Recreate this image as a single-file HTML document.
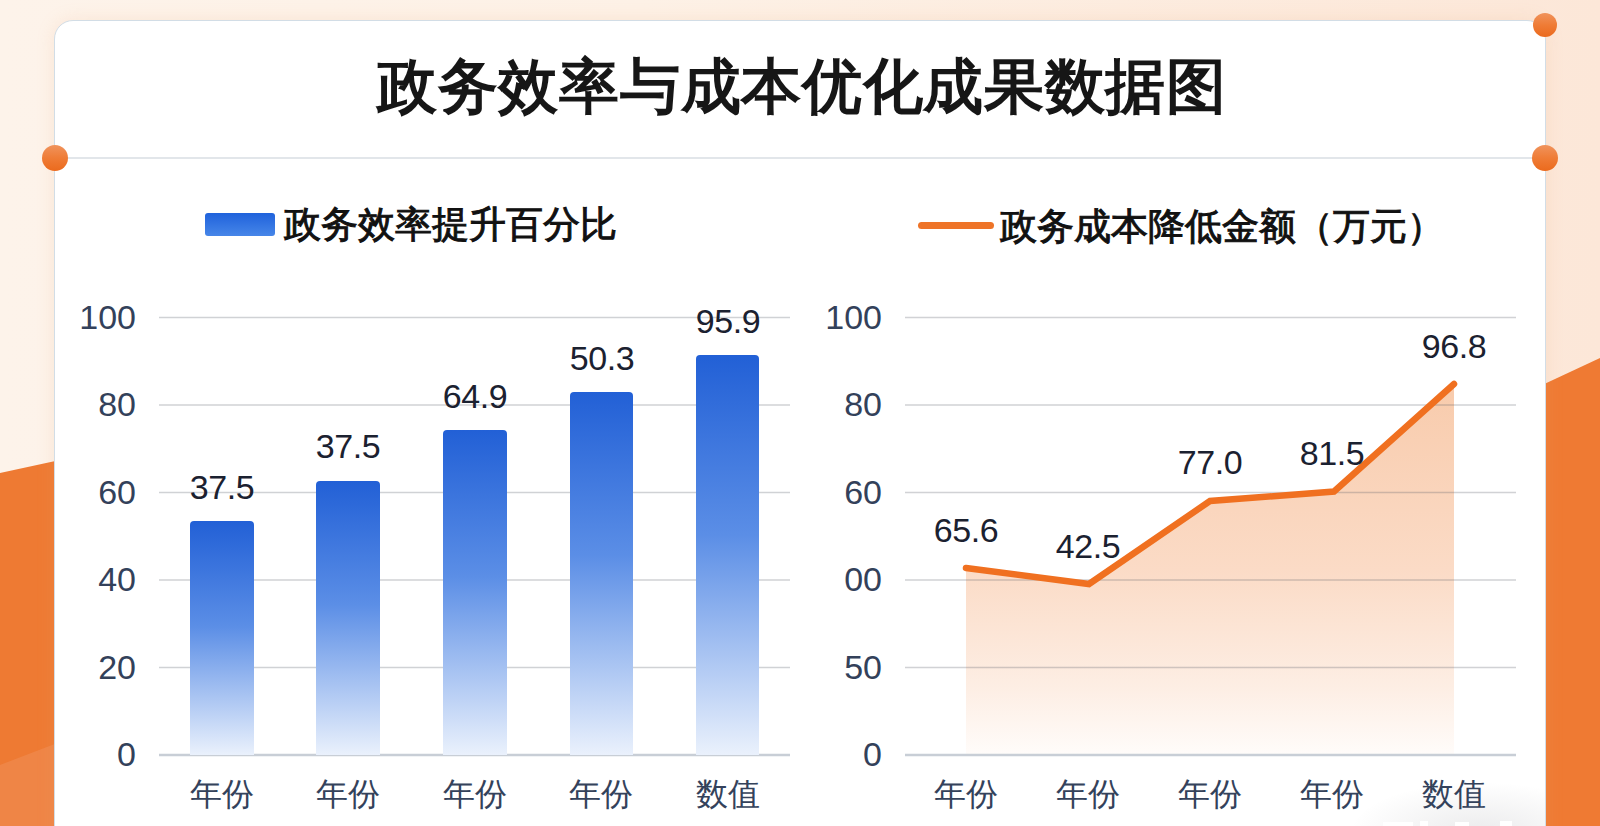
<!DOCTYPE html>
<html><head><meta charset="utf-8">
<style>
html,body{margin:0;padding:0;}
body{width:1600px;height:826px;overflow:hidden;position:relative;font-family:"Liberation Sans",sans-serif;
background:linear-gradient(90deg,#fdf3ea 0%,#fdf1e6 40%,#fce7d8 100%);}
.abs{position:absolute;}
#bgsvg{position:absolute;left:0;top:0;}
.card{position:absolute;left:54px;top:20px;width:1492px;height:840px;background:#fff;border:1.5px solid #d2dde6;border-radius:19px 19px 0 0;box-sizing:border-box;
box-shadow:0 0 18px rgba(240,170,120,0.18);}
.sep{position:absolute;left:54px;top:157px;width:1491px;height:2px;background:#e2e6ea;}
.dot{position:absolute;border-radius:50%;background:linear-gradient(180deg,#f0935c 0%,#ef7c36 50%,#eb6a1d 100%);}
.title{position:absolute;left:377px;top:47px;white-space:nowrap;font-size:60px;font-weight:bold;color:#161616;letter-spacing:0.7px;}
.leg{position:absolute;font-size:37px;color:#111;line-height:44px;font-weight:400;-webkit-text-stroke:1px #111;}
.ylab{position:absolute;font-size:34px;color:#33415a;text-align:right;width:80px;line-height:36px;}
.xlab{position:absolute;font-size:32px;color:#34425b;text-align:center;width:120px;line-height:36px;}
.val{position:absolute;font-size:34px;color:#1b2130;text-align:center;width:120px;line-height:36px;letter-spacing:-0.4px;}
</style></head>
<body>
<svg id="bgsvg" width="1600" height="826">
  <polygon points="0,473 60,460 60,826 0,826" fill="#ee7a33"/>
  <polygon points="0,765 60,742 60,826 0,826" fill="#ef8a4e" opacity="0.75"/>
  <polygon points="1540,386 1600,358 1600,826 1540,826" fill="#ef7a33"/>
</svg>
<div class="card"></div>
<div class="sep"></div>
<div class="dot" style="left:42px;top:145px;width:26px;height:26px;"></div>
<div class="dot" style="left:1532px;top:145px;width:26px;height:26px;"></div>
<div class="dot" style="left:1533px;top:13px;width:24px;height:24px;"></div>

<div class="title">政务效率与成本优化成果数据图</div>

<!-- legends -->
<div class="abs" style="left:205px;top:213px;width:70px;height:23px;border-radius:3px;background:linear-gradient(180deg,#1f62dc,#4786e8);"></div>
<div class="leg" style="left:284px;top:203px;">政务效率提升百分比</div>
<div class="abs" style="left:918px;top:222px;width:76px;height:7px;border-radius:4px;background:#ee7428;"></div>
<div class="leg" style="left:1000px;top:205px;">政务成本降低金额（万元）</div>

<svg class="abs" style="left:0;top:0" width="1600" height="826">
  <defs>
    <linearGradient id="barg" x1="0" y1="0" x2="0" y2="1" gradientUnits="objectBoundingBox">
      <stop offset="0" stop-color="#2260d6"/>
      <stop offset="0.45" stop-color="#5b8ee6"/>
      <stop offset="1" stop-color="#eaf1fc"/>
    </linearGradient>
    <linearGradient id="areag" x1="0" y1="383" x2="0" y2="755" gradientUnits="userSpaceOnUse">
      <stop offset="0" stop-color="#f8cbac"/>
      <stop offset="0.5" stop-color="#fbdbc6"/>
      <stop offset="0.82" stop-color="#fdeee4"/>
      <stop offset="1" stop-color="#fffcfa"/>
    </linearGradient>
  </defs>
  <!-- left grid -->
  <g stroke="#d0d2d5" stroke-width="1.6">
    <line x1="159" y1="317.5" x2="790" y2="317.5"/>
    <line x1="159" y1="405" x2="790" y2="405"/>
    <line x1="159" y1="492.5" x2="790" y2="492.5"/>
    <line x1="159" y1="580" x2="790" y2="580"/>
    <line x1="159" y1="667.5" x2="790" y2="667.5"/>
  </g>
  <line x1="159" y1="755" x2="790" y2="755" stroke="#c8ced6" stroke-width="2.5"/>
  <!-- bars -->
  <g fill="url(#barg)">
    <path d="M190,755 V525 Q190,521 194,521 H250 Q254,521 254,525 V755 Z"/>
    <path d="M316,755 V485 Q316,481 320,481 H376 Q380,481 380,485 V755 Z"/>
    <path d="M443,755 V434 Q443,430 447,430 H503 Q507,430 507,434 V755 Z"/>
    <path d="M570,755 V396 Q570,392 574,392 H629 Q633,392 633,396 V755 Z"/>
    <path d="M696,755 V359 Q696,355 700,355 H755 Q759,355 759,359 V755 Z"/>
  </g>
  <!-- area -->
  <polygon points="966,568 1089,584 1210,501 1334,491.5 1454,384 1454,755 966,755" fill="url(#areag)"/>
  <!-- right grid -->
  <g stroke="rgb(90,95,105)" stroke-opacity="0.28" stroke-width="1.5">
    <line x1="905" y1="317.5" x2="1516" y2="317.5"/>
    <line x1="905" y1="405" x2="1516" y2="405"/>
    <line x1="905" y1="492.5" x2="1516" y2="492.5"/>
    <line x1="905" y1="580" x2="1516" y2="580"/>
    <line x1="905" y1="667.5" x2="1516" y2="667.5"/>
  </g>
  <line x1="905" y1="755" x2="1516" y2="755" stroke="#c8ced6" stroke-width="2.5"/>
  <polyline points="966,568 1089,584 1210,501 1334,491.5 1454,384" fill="none" stroke="#f07020" stroke-width="6.5" stroke-linejoin="miter" stroke-linecap="round"/>
</svg>

<!-- left y labels -->
<div class="ylab" style="left:56px;top:299px;">100</div>
<div class="ylab" style="left:56px;top:386px;">80</div>
<div class="ylab" style="left:56px;top:474px;">60</div>
<div class="ylab" style="left:56px;top:561px;">40</div>
<div class="ylab" style="left:56px;top:649px;">20</div>
<div class="ylab" style="left:56px;top:736px;">0</div>
<!-- right y labels -->
<div class="ylab" style="left:802px;top:299px;">100</div>
<div class="ylab" style="left:802px;top:386px;">80</div>
<div class="ylab" style="left:802px;top:474px;">60</div>
<div class="ylab" style="left:802px;top:561px;">00</div>
<div class="ylab" style="left:802px;top:649px;">50</div>
<div class="ylab" style="left:802px;top:736px;">0</div>

<!-- bar values -->
<div class="val" style="left:162px;top:469px;">37.5</div>
<div class="val" style="left:288px;top:428px;">37.5</div>
<div class="val" style="left:415px;top:378px;">64.9</div>
<div class="val" style="left:542px;top:340px;">50.3</div>
<div class="val" style="left:668px;top:303px;">95.9</div>
<!-- line values -->
<div class="val" style="left:906px;top:512px;">65.6</div>
<div class="val" style="left:1028px;top:528px;">42.5</div>
<div class="val" style="left:1150px;top:444px;">77.0</div>
<div class="val" style="left:1272px;top:435px;">81.5</div>
<div class="val" style="left:1394px;top:328px;">96.8</div>

<div class="abs" style="left:1330px;top:770px;width:215px;height:56px;background:radial-gradient(ellipse 130px 50px at 150px 62px,rgba(60,60,70,0.10),rgba(60,60,70,0) 100%);"></div>
<div class="abs" style="left:1383px;top:822px;width:30px;height:4px;background:#fff;"></div>
<div class="abs" style="left:1420px;top:821px;width:8px;height:5px;background:#fff;"></div>
<div class="abs" style="left:1455px;top:822px;width:14px;height:4px;background:#fff;"></div>
<div class="abs" style="left:1500px;top:821px;width:12px;height:5px;background:#fff;"></div>
<!-- x labels -->
<div class="xlab" style="left:162px;top:776px;">年份</div>
<div class="xlab" style="left:288px;top:776px;">年份</div>
<div class="xlab" style="left:415px;top:776px;">年份</div>
<div class="xlab" style="left:541px;top:776px;">年份</div>
<div class="xlab" style="left:668px;top:776px;">数值</div>
<div class="xlab" style="left:906px;top:776px;">年份</div>
<div class="xlab" style="left:1028px;top:776px;">年份</div>
<div class="xlab" style="left:1150px;top:776px;">年份</div>
<div class="xlab" style="left:1272px;top:776px;">年份</div>
<div class="xlab" style="left:1394px;top:776px;">数值</div>
</body></html>
